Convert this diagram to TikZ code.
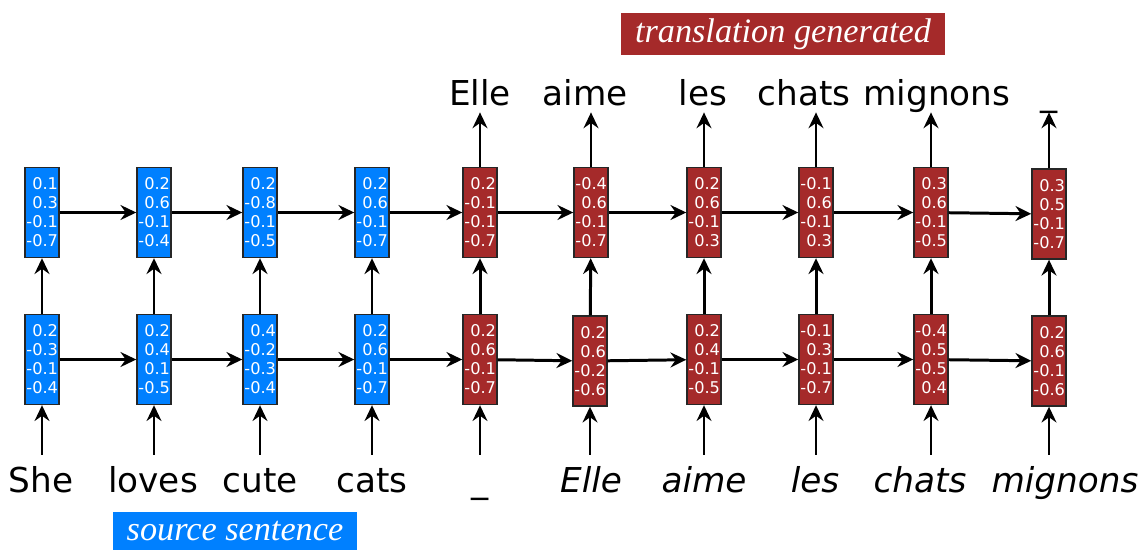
\documentclass[tikz,border=0pt]{standalone}
\usepackage{fontspec}
\usepackage{xcolor}
\usepackage{tikz}
\usetikzlibrary{positioning,arrows.meta}
\newfontfamily\wordfont{DejaVu Sans}
\newfontfamily\tagfont{Liberation Serif}
\definecolor{encblue}{RGB}{0,128,255}
\definecolor{decred}{RGB}{165,42,42}

\begin{document}
\begin{tikzpicture}[x=0.02cm,y=-0.02cm,>={Stealth[length=9pt,width=8.5pt,inset=3pt]},
    link/.style={->,line width=1.7pt},
    feed/.style={->,line width=1.2pt},
    word/.style={font=\wordfont\fontsize{19.5}{22}\selectfont,anchor=base,text height=14pt,text depth=4pt,inner sep=0pt},
    tag/.style={font=\tagfont\itshape\fontsize{19.5}{22}\selectfont,text=white}]
    \tikzstyle{cell}=[rectangle,draw=black!85,line width=0.8pt,text=white,minimum width=0.68cm,minimum height=1.8cm,
        text width=0.64cm,align=right,inner xsep=0pt,font=\wordfont\fontsize{9.2}{10.8}\selectfont]
    \tikzstyle{enc}=[cell,fill=encblue]
    \tikzstyle{dec}=[cell,fill=decred]
    \useasboundingbox (0,0) rectangle (1142,549);

    % first layer
    \node[enc] (low1)  at (42,359.5)   {0.2\\-0.3\\-0.1\\-0.4};
    \node[enc] (low2)  at (154,359.5)  {0.2\\0.4\\0.1\\-0.5};
    \node[enc] (low3)  at (260,359.5)  {0.4\\-0.2\\-0.3\\-0.4};
    \node[enc] (low4)  at (372,359.5)  {0.2\\0.6\\-0.1\\-0.7};
    \node[dec] (low5)  at (480,359.5)  {0.2\\0.6\\-0.1\\-0.7};
    \node[dec] (low6)  at (590,361)    {0.2\\0.6\\-0.2\\-0.6};
    \node[dec] (low7)  at (704,359.5)  {0.2\\0.4\\-0.1\\-0.5};
    \node[dec] (low8)  at (816,359.5)  {-0.1\\0.3\\-0.1\\-0.7};
    \node[dec] (low9)  at (931,359.5)  {-0.4\\0.5\\-0.5\\0.4};
    \node[dec] (low10) at (1049,361)   {0.2\\0.6\\-0.1\\-0.6};

    % second layer
    \node[enc] (up1)  at (42,212.5)   {0.1\\0.3\\-0.1\\-0.7};
    \node[enc] (up2)  at (154,212.5)  {0.2\\0.6\\-0.1\\-0.4};
    \node[enc] (up3)  at (260,212.5)  {0.2\\-0.8\\-0.1\\-0.5};
    \node[enc] (up4)  at (372,212.5)  {0.2\\0.6\\-0.1\\-0.7};
    \node[dec] (up5)  at (480,212.5)  {0.2\\-0.1\\-0.1\\-0.7};
    \node[dec] (up6)  at (591,212.5)  {-0.4\\0.6\\-0.1\\-0.7};
    \node[dec] (up7)  at (704,212.5)  {0.2\\0.6\\-0.1\\0.3};
    \node[dec] (up8)  at (816,212.5)  {-0.1\\0.6\\-0.1\\0.3};
    \node[dec] (up9)  at (931,212.5)  {0.3\\0.6\\-0.1\\-0.5};
    \node[dec] (up10) at (1049,214)   {0.3\\0.5\\-0.1\\-0.7};

    % input words
    \node[word] (src1)  at (41,492)   {She};
    \node[word] (src2)  at (153,492)  {loves};
    \node[word] (src3)  at (260,492)  {cute};
    \node[word] (src4)  at (372,492)  {cats};
    \node[word] (src5)  at (480,492)  {\_};
    \node[word] (src6)  at (591,492)  {\itshape Elle};
    \node[word] (src7)  at (704,492)  {\itshape aime};
    \node[word] (src8)  at (815,492)  {\itshape les};
    \node[word] (src9)  at (920,492)  {\itshape chats};
    \node[word] (src10) at (1065,492) {\itshape mignons};

    % output words
    \node[word] (tgt5)  at (480,105)  {Elle};
    \node[word] (tgt6)  at (585,105)  {aime};
    \node[word] (tgt7)  at (703,105)  {les};
    \node[word] (tgt8)  at (804,105)  {chats};
    \node[word] (tgt9)  at (937,105)  {mignons};
    \node[word] (tgt10) at (1049,105) {\_};

    \node[tag,fill=encblue,minimum width=4.88cm,minimum height=0.76cm] (source) at (235,531) {source sentence};
    \node[tag,fill=decred,minimum width=6.5cm,minimum height=0.84cm] (target) at (783,34) {translation generated};

    \foreach \i [count=\j from 2] in {1,...,9} {
        \draw[link] (low\i) -- (low\j);
        \draw[link] (up\i) -- (up\j);
    }
    \foreach \i in {1,...,10} {
        \draw[link] (low\i) -- (up\i);
        \draw[feed,shorten <=7pt] (low\i.south |- src\i.north) -- (low\i);
    }
    \foreach \i in {5,...,10}
        \draw[feed] (up\i) -- (up\i.north |- tgt\i.south);
\end{tikzpicture}
\end{document}
